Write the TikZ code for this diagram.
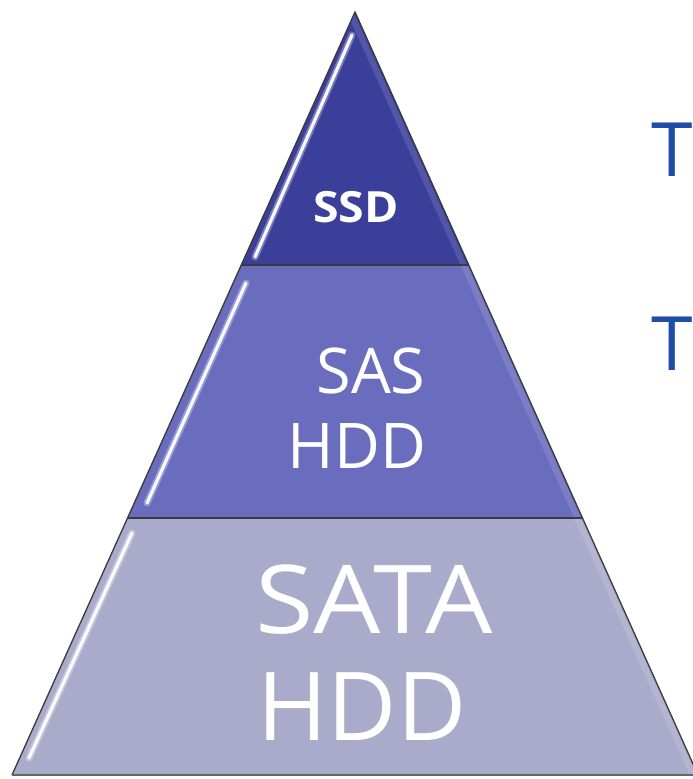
\documentclass[tikz,border=0pt]{standalone}
\usepackage{fontspec}
\setmainfont{Open Sans}
\newfontfamily\ssdfont[FakeStretch=1.08]{Open Sans}
\newfontfamily\satafont[FakeStretch=1.12]{Open Sans}
\definecolor{ssdc}{HTML}{3B3F9A}
\definecolor{sasc}{HTML}{6A6DBE}
\definecolor{satac}{HTML}{AAABCA}
\definecolor{tblue}{HTML}{1E4DA8}
\definecolor{edgec}{HTML}{3A3A3A}
\tikzset{
  lbl/.style={text=white, inner sep=0pt, anchor=base},
  gloss/.style={white, line width=3.2pt, line cap=round, opacity=0.95},
  glow/.style={white, line width=7pt, line cap=round, opacity=0.3},
  rim/.style={edgec, line width=1.3pt},
  tlbl/.style={text=tblue, inner sep=0pt, anchor=base west, font=\fontsize{75}{75}\selectfont}
}
\begin{document}
\begin{tikzpicture}[x=1pt,y=-1pt]
\useasboundingbox (0,0) rectangle (693,779);
\clip (0,0) rectangle (693,779);
% corner points
\coordinate (A) at (355,12);
\coordinate (L1) at (241.3,265);
\coordinate (R1) at (468.7,265);
\coordinate (L2) at (127.6,518);
\coordinate (R2) at (582.4,518);
\coordinate (L3) at (12,775);
\coordinate (R3) at (698,775);
% fills
\fill[ssdc] (A) -- (R1) -- (L1) -- cycle;
\fill[sasc] (L1) -- (R1) -- (R2) -- (L2) -- cycle;
\fill[satac] (L2) -- (R2) -- (R3) -- (L3) -- cycle;
% subtle lighter bands near right edges
\draw[white, opacity=0.12, line width=6pt] ([xshift=-5pt]A) -- ([xshift=-5pt]R1);
\draw[white, opacity=0.12, line width=6pt] ([xshift=-5pt]R1) -- ([xshift=-5pt]R2);
\draw[white, opacity=0.12, line width=6pt] ([xshift=-5pt]R2) -- ([xshift=-5pt]R3);
% glossy highlights
\coordinate (h1a) at (255,257); \coordinate (h1b) at (352,35);
\coordinate (h2a) at (147,503); \coordinate (h2b) at (246,283);
\coordinate (h3a) at (29,758);  \coordinate (h3b) at (132,533);
\draw[glow] (h1a) -- (h1b);
\draw[gloss] (h1a) -- (h1b);
\draw[glow] (h2a) -- (h2b);
\draw[gloss] (h2a) -- (h2b);
\draw[glow] (h3a) -- (h3b);
\draw[gloss] (h3a) -- (h3b);
% outlines
\draw[rim] (L3) -- (A) -- (R3);
\draw[edgec, line width=1.5pt] (L1) -- (R1);
\draw[edgec, line width=1.5pt] (L2) -- (R2);
\draw[black!60, line width=2pt] (L3) -- (R3);
% labels
\node[lbl, font=\ssdfont\bfseries\fontsize{43}{43}\selectfont] (ssd) at (356,222) {SSD};
\node[lbl, font=\fontsize{63}{63}\selectfont] (sas) at (371,393) {SAS};
\node[lbl, font=\fontsize{63}{63}\selectfont] (sashdd) at (357,468) {HDD};
\node[lbl, font=\satafont\fontsize{95}{95}\selectfont] (sata) at (374,633) {SATA};
\node[lbl, font=\fontsize{95}{95}\selectfont] (satahdd) at (362,740) {HDD};
% cut-off text at right
\node[tlbl] (t1) at (651,176) {T};
\node[tlbl] (t2) at (651,370) {T};
\end{tikzpicture}
\end{document}
